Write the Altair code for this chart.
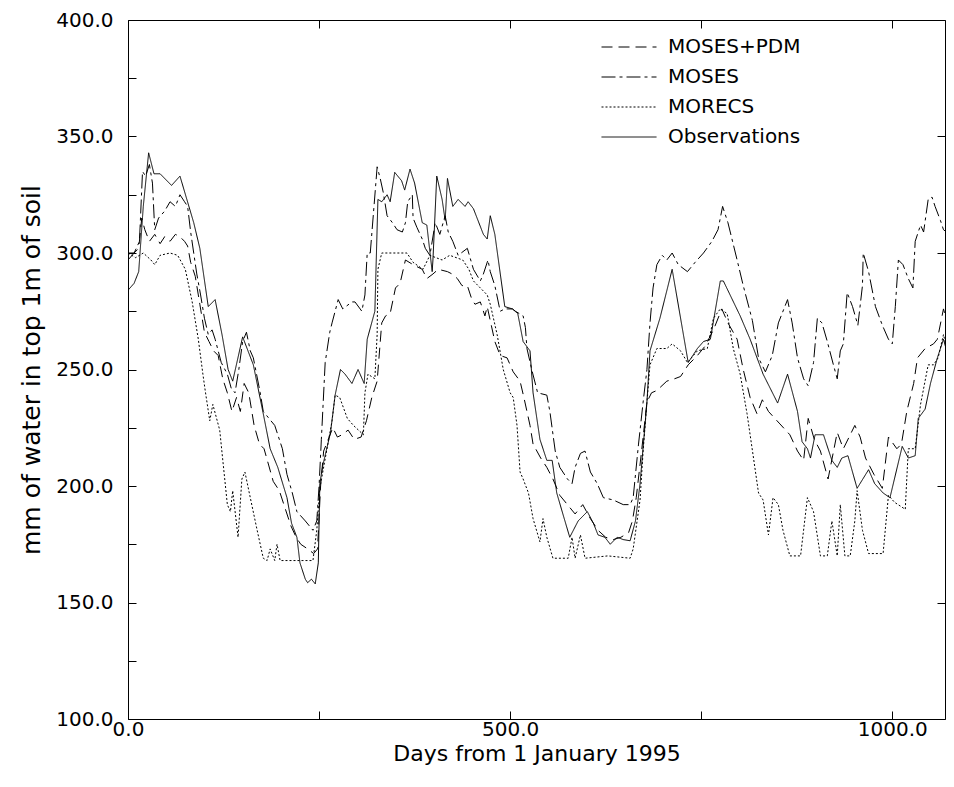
import altair as alt
import pandas as pd

FONT = "DejaVu Sans"

SERIES = ["MOSES+PDM", "MOSES", "MORECS", "Observations"]
DASHES = [[11, 6], [14, 4, 3, 4], [2, 2], [1, 0]]

X_TICKS = [0, 250, 500, 750, 1000]
Y_TICKS_LEFT = [100, 125, 150, 175, 200, 225, 250, 275, 300, 325, 350, 375, 400]
Y_TICKS_RIGHT = [100, 150, 200, 250, 300, 350, 400]

OBS_DAY = [0, 8, 14, 20, 27, 34, 42, 57, 68, 77, 86, 94, 105, 114, 123, 131, 137, 150, 164, 177,
           186, 196, 208, 214, 221, 225, 232, 235, 240, 245, 249, 251, 255, 265, 271, 278, 284, 293,
           301, 309, 313, 323, 327, 332, 339, 343, 349, 358, 362, 369, 375, 385, 391, 398, 399, 404,
           411, 415, 418, 425, 432, 441, 445, 452, 465, 470, 474, 480, 493, 503, 510, 517, 526, 530,
           539, 548, 555, 561, 569, 578, 589, 601, 609, 615, 624, 631, 640, 648, 657, 664, 670, 679,
           683, 696, 712, 733, 745, 753, 762, 775, 779, 801, 814, 831, 850, 863, 876, 882, 889, 893,
           899, 910, 921, 928, 934, 942, 954, 969, 977, 988, 997, 1013, 1021, 1030, 1034, 1043, 1050,
           1059, 1067, 1072]
OBS_VAL = [284, 287, 292, 320, 343, 334, 334, 329, 333, 323, 313, 302, 277, 280, 265, 250, 245, 264, 252, 231,
           216, 208, 195, 184, 178, 167, 160, 158.5, 160, 158, 167, 201, 209, 223, 239, 250, 248, 244,
           250, 244, 263, 275, 323, 322, 325, 322, 334.6, 331, 327, 336, 330, 313, 312, 292, 297, 333,
           323, 314, 332, 320, 323, 320, 322, 319, 308, 306, 316, 308, 277, 276, 274, 262, 258, 240,
           220, 211, 211, 197, 188, 178, 185, 189, 184, 179, 178, 175, 178, 177, 176.5, 185, 201, 236,
           258, 272, 293, 253, 259, 262, 263, 288, 288, 273, 263, 248, 235.6, 248, 232, 219, 216, 212,
           222, 222, 211, 208, 212, 213, 199, 207, 201, 197, 195, 217, 212, 213, 229, 233, 244,
           255, 263, 257]

MOSES_DAY = [0, 8, 15, 19, 23, 28, 32, 35, 40, 48, 55, 62, 68, 74, 78, 82, 86, 90, 95, 100,
             105, 110, 114, 122, 130, 135, 140, 145, 150, 155, 160, 164, 173, 177, 192, 202, 208, 215,
             221, 232, 242, 247, 250, 253, 258, 264, 267, 275, 281, 293, 297, 306, 310, 313, 317, 326,
             330, 334, 339, 346, 352, 359, 363, 366, 372, 373, 378, 385, 389, 395, 402, 408, 415, 419,
             425, 432, 444, 452, 461, 465, 471, 474, 480, 487, 493, 503, 507, 517, 520, 522, 529, 536,
             548, 552, 559, 565, 575, 581, 585, 592, 598, 605, 614, 622, 635, 648, 657, 661, 668, 674,
             679, 683, 687, 692, 699, 705, 712, 720, 732, 742, 753, 764, 772, 778, 785, 797, 805, 817,
             825, 834, 843, 851, 863, 869, 876, 884, 890, 897, 902, 908, 915, 923, 928, 932, 936, 941,
             948, 955, 961, 962, 969, 978, 987, 995, 1000, 1004, 1008, 1014, 1021, 1027, 1030, 1037,
             1041, 1047, 1052, 1056, 1063, 1067, 1075]
MOSES_VAL = [297, 300, 305, 335, 333, 338, 330, 310, 315, 318, 322, 320, 325, 322, 320, 309, 300, 291, 282, 272,
             265, 267, 263, 253, 248, 242, 240, 250, 262, 266, 258, 255, 240, 232, 226, 216, 205, 197,
             189, 185, 181, 185, 200, 220, 253, 266, 270, 280, 276, 279, 279, 275, 282, 300, 300, 337,
             332, 326, 316, 313, 310, 309, 313, 322, 325, 315, 311, 306, 302, 299, 313, 308, 316, 309,
             305, 299, 302, 293, 288, 291, 297, 292, 286, 275, 276, 276, 275, 273, 268, 259, 249, 240,
             239, 232, 215, 208, 203, 201, 208, 214, 215, 206, 201, 195, 194, 192, 192, 195, 218, 236,
             250, 270, 285, 295, 299, 297, 300, 295, 292, 296, 300, 305, 310, 320, 313, 297, 286, 271,
             255, 249, 256, 270, 280, 270, 255, 246, 243, 253, 272, 270, 262, 252, 246, 258, 261, 283,
             277, 269, 286, 300, 292, 277, 269, 263, 261, 277, 297, 295, 289, 285, 305, 312,
             309, 323, 324, 320, 314, 310, 308]

PDM_DAY = [0, 8, 14, 18, 22, 28, 35, 42, 48, 55, 62, 68, 74, 78, 82, 88, 94, 100, 106, 112,
           118, 124, 130, 136, 142, 147, 152, 158, 165, 172, 178, 184, 190, 198, 206, 213, 220, 226,
           235, 243, 248, 252, 256, 262, 268, 274, 280, 288, 296, 305, 312, 319, 326, 332, 337, 343,
           350, 356, 363, 373, 385, 391, 399, 406, 418, 424, 431, 437, 444, 450, 454, 461, 467, 470,
           480, 487, 496, 504, 513, 518, 526, 530, 540, 548, 556, 565, 575, 585, 595, 605, 615, 625,
           635, 645, 655, 660, 665, 672, 679, 685, 692, 705, 715, 723, 733, 745, 755, 766, 777, 785,
           797, 805, 814, 823, 830, 838, 852, 866, 876, 884, 890, 898, 906, 916, 928, 936, 951, 958,
           965, 976, 987, 995, 1006, 1012, 1019, 1028, 1033, 1043, 1054, 1059, 1067, 1072]
PDM_VAL = [300, 300, 302, 315, 310, 305, 308, 304, 307, 305, 308, 307, 305, 303, 296, 290, 278, 266, 262, 258,
           256, 246, 240, 232, 238, 232, 244, 240, 226, 218, 216, 209, 202, 198, 190, 183, 178, 175,
           173, 171, 173, 200, 215, 220, 225, 221, 222, 224, 220, 221, 228, 238, 245, 270, 273, 274,
           285, 287, 297, 295, 293, 289, 291, 293, 292, 291, 289, 286, 286, 280, 278, 279, 273, 277,
           262, 256, 255, 249, 245, 238, 226, 218, 212, 208, 203, 196, 192, 188, 192, 186, 181, 178,
           177, 178, 180, 185, 195, 215, 236, 240, 241, 245, 246, 247, 252, 256, 260, 267, 276, 270,
           263, 250, 238, 231, 237, 232, 227, 222, 215, 211, 229, 220, 215, 203, 223, 216, 226, 221,
           212, 205, 199, 221, 216, 218, 232, 244, 255, 259, 261, 263, 276, 270]

MORECS_DAY = [0, 10, 20, 30, 35, 42, 55, 65, 75, 84, 92, 98, 101, 107, 111, 120, 130, 134, 137, 144,
              149, 153, 160, 169, 177, 182, 186, 192, 195, 199, 242, 247, 251, 267, 271, 277, 287, 295,
              308, 310, 314, 323, 326, 327, 332, 345, 365, 373, 386, 395, 411, 421, 438, 446, 452, 461,
              470, 474, 483, 491, 500, 504, 509, 513, 517, 524, 530, 539, 543, 548, 556, 576, 581, 585,
              592, 598, 628, 657, 661, 664, 670, 674, 679, 683, 692, 705, 712, 723, 732, 745, 758, 766,
              775, 784, 792, 801, 810, 818, 825, 831, 838, 844, 851, 857, 866, 880, 889, 897, 906, 915,
              921, 928, 932, 938, 945, 951, 954, 961, 969, 988, 995, 1003, 1017, 1021, 1030, 1037, 1047,
              1054, 1060, 1067, 1072]
MORECS_VAL = [300, 298, 300, 297, 295, 299, 300, 299, 293, 279, 263, 248, 241, 228, 235, 224, 192, 189, 198, 178,
              203, 206, 195, 181, 169, 168, 173, 168, 175, 168, 168, 181, 199, 228, 239, 238, 229, 226,
              222, 240, 248, 246, 265, 293, 300, 300, 300, 296, 293, 299, 297, 299, 297, 293, 288, 285,
              282, 278, 265, 250, 240, 238, 226, 206, 203, 197, 186, 176, 186, 178, 169, 169, 178, 169,
              179, 169, 170, 169, 173, 180, 194, 215, 236, 252, 259, 259, 261, 258, 253, 258, 259, 272,
              276, 274, 259, 248, 231, 213, 197, 194, 179, 195, 192, 181, 170, 170, 195, 189, 170, 170,
              185, 170, 192, 170, 170, 185, 198, 181, 171, 171, 196, 193, 190, 216, 216, 235, 252,
              252, 255, 265, 258]

rows = []
for name, days, vals in [("MOSES+PDM", PDM_DAY, PDM_VAL), ("MOSES", MOSES_DAY, MOSES_VAL),
                         ("MORECS", MORECS_DAY, MORECS_VAL), ("Observations", OBS_DAY, OBS_VAL)]:
    assert len(days) == len(vals), name
    for d, v in zip(days, vals):
        rows.append({"series": name, "day": d, "value": v})
df = pd.DataFrame(rows)

xscale = alt.Scale(domain=[0, 1069], nice=False, zero=False)
yscale = alt.Scale(domain=[100, 400], nice=False, zero=False)

lines = alt.Chart(df).mark_line(color="black", strokeWidth=1, clip=True).encode(
    x=alt.X("day:Q", scale=xscale,
            axis=alt.Axis(orient="bottom", values=X_TICKS, offset=-8, tickSize=8, domain=False,
                          labelFlush=False, labelOverlap=False,
                          labelExpr="datum.value % 500 == 0 ? format(datum.value, '.1f') : ''",
                          labelPadding=0, title="Days from 1 January 1995", titlePadding=4)),
    y=alt.Y("value:Q", scale=yscale,
            axis=alt.Axis(orient="left", values=Y_TICKS_LEFT, offset=-8, tickSize=8, domain=False,
                          labelFlush=False, labelOverlap=False,
                          labelExpr="datum.value % 50 == 0 ? format(datum.value, '.1f') : ''",
                          labelPadding=15, title="mm of water in top 1m of soil", titlePadding=11,
                          titleFontSize=25)),
    strokeDash=alt.StrokeDash("series:N", scale=alt.Scale(domain=SERIES, range=DASHES),
                              legend=alt.Legend(title=None, orient="none", legendX=491, legendY=17,
                                                symbolType="M-5,0H5", symbolSize=121,
                                                symbolStrokeWidth=1, symbolStrokeColor="black",
                                                labelOffset=29, rowPadding=10, padding=0,
                                                labelFontSize=20, labelFont=FONT, labelLimit=300)),
    order=alt.Order("day:Q"),
)

frame_axes = alt.Chart(df).mark_line(opacity=0).encode(
    x=alt.X("day:Q", scale=xscale,
            axis=alt.Axis(orient="top", values=X_TICKS, offset=-8, tickSize=8, domain=False,
                          labels=False, title=None)),
    y=alt.Y("value:Q", scale=yscale,
            axis=alt.Axis(orient="right", values=Y_TICKS_RIGHT, offset=-8, tickSize=8, domain=False,
                          labels=False, title=None)),
    detail="series:N",
)

chart = alt.layer(lines, frame_axes).resolve_axis(x="independent", y="independent").properties(
    width=817, height=699,
    autosize=alt.AutoSizeParams(type="none"),
    padding={"left": 120, "top": 12, "right": 1, "bottom": 48},
).configure_view(stroke="black", strokeWidth=1).configure_axis(
    labelFont=FONT, titleFont=FONT, labelFontSize=20, titleFontSize=22,
    labelColor="black", titleColor="black", tickColor="black", tickWidth=1,
    titleFontWeight="normal", grid=False,
)

chart.save("out.html", embed_options={"renderer": "svg", "actions": False})
